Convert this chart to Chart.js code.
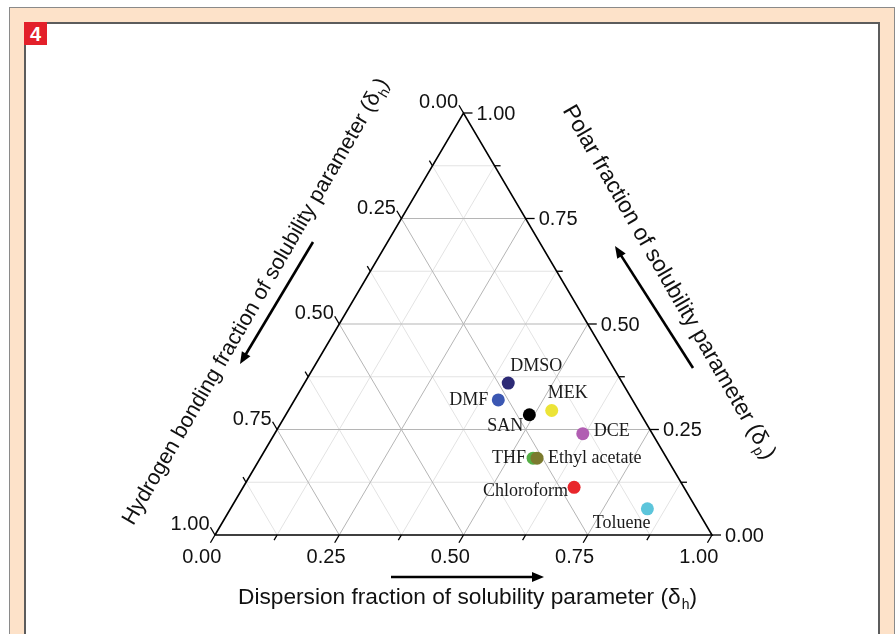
<!DOCTYPE html>
<html><head><meta charset="utf-8">
<script src="https://cdn.jsdelivr.net/npm/chart.js@4.4.1/dist/chart.umd.min.js"></script>
<style>
html,body{margin:0;padding:0;background:#fff;width:896px;height:634px;overflow:hidden;}
#outer{position:absolute;left:9px;top:7px;width:886px;height:700px;background:#fde2c9;border:1px solid #8a8a8a;box-sizing:border-box;}
#inner{position:absolute;left:24px;top:22px;width:856px;height:700px;background:#fff;border:2px solid #5c5c5c;box-sizing:border-box;}
#badge{position:absolute;left:24px;top:22px;width:23px;height:23px;background:#e3202a;color:#fff;font:bold 20px "Liberation Sans",Arial,sans-serif;text-align:center;line-height:24px;}
#c{position:absolute;left:0;top:0;}
</style></head>
<body>
<div id="outer"></div>
<div id="inner"></div>
<div id="badge">4</div>
<canvas id="c" width="896" height="634"></canvas>
<script>
// ---- data ----
const solvents   = ['DMSO','DMF','SAN','MEK','DCE','THF','Ethyl acetate','Chloroform','Toluene'];
const dispersion = [0.410, 0.410, 0.490, 0.530, 0.620, 0.549, 0.557, 0.666, 0.839];
const polar      = [0.360, 0.320, 0.285, 0.295, 0.240, 0.182, 0.182, 0.113, 0.062];
const hydrogen   = [0.230, 0.270, 0.225, 0.175, 0.140, 0.269, 0.261, 0.221, 0.099];
const pointColors = ['#2c2a75','#3b57b2','#000000','#ece437','#b15eb2','#55ae45','#7b7a2e','#e8262b','#5cc5db'];
const majorTicks = [0, 0.25, 0.5, 0.75, 1];
const minorTicks = [0.125, 0.375, 0.625, 0.875];
const tickLabels = ['0.00','0.25','0.50','0.75','1.00'];
const titleBottom = ['Dispersion fraction of solubility parameter (δ','h',')'];
const titleLeft   = ['Hydrogen bonding fraction of solubility parameter (δ','h',')'];
const titleRight  = ['Polar fraction of solubility parameter (δ','p',')'];

// ---- layout (pixel offsets for annotation text) ----
const labelLayout = [
  {dx:2, dy:-17, align:'left'},
  {dx:-10, dy:0, align:'right'},
  {dx:-6, dy:12, align:'right'},
  {dx:-4, dy:-17, align:'left'},
  {dx:11, dy:-2, align:'left'},
  {dx:-7, dy:0, align:'right'},
  {dx:11, dy:0, align:'left'},
  {dx:-6, dy:4, align:'right'},
  {dx:3, dy:14, align:'right'}
];
const TICK_FONT = '20px "Liberation Sans", Arial, sans-serif';
const TITLE_FONT = '22.7px "Liberation Sans", Arial, sans-serif';
const TITLE_FONT_LEFT = '21.6px "Liberation Sans", Arial, sans-serif';
const SUB_FONT = '14px "Liberation Sans", Arial, sans-serif';
const LABEL_FONT = '18px "Liberation Serif", "Times New Roman", serif';

// ternary -> cartesian (x along base, y = polar height fraction)
function toXY(d, p, h) {
  const s = (h === undefined) ? 1 : (d + p + h);
  d /= s; p /= s;
  return {x: d + p / 2, y: p};
}

function gridSegments(levels) {
  const segs = [];
  levels.forEach(v => {
    if (v <= 0 || v >= 1) return;
    segs.push([toXY(0, v), toXY(1 - v, v)]);      // constant polar
    segs.push([toXY(v, 0), toXY(v, 1 - v)]);      // constant dispersion
    segs.push([toXY(1 - v, 0), toXY(0, 1 - v)]);  // constant hydrogen
  });
  return segs;
}

const datasets = [];
gridSegments(minorTicks).forEach(seg => datasets.push({
  type:'line', data: seg, showLine:true, borderColor:'#e3e3e3', borderWidth:1,
  pointRadius:0, clip:false, order:5
}));
gridSegments(majorTicks).forEach(seg => datasets.push({
  type:'line', data: seg, showLine:true, borderColor:'#b5b5b5', borderWidth:1,
  pointRadius:0, clip:false, order:4
}));
datasets.push({
  type:'line', data:[toXY(0,0), toXY(1,0), toXY(0,1), toXY(0,0)], showLine:true,
  borderColor:'#000', borderWidth:1.6, pointRadius:0, clip:false, order:3
});
datasets.push({
  type:'scatter',
  data: solvents.map((s, i) => toXY(dispersion[i], polar[i], hydrogen[i])),
  backgroundColor: pointColors, borderColor: pointColors, borderWidth:0,
  pointRadius:6.5, clip:false, order:1
});

function arrow(ctx, x1, y1, x2, y2) {
  const a = Math.atan2(y2 - y1, x2 - x1), L = 12, W = 5;
  ctx.save();
  ctx.strokeStyle = '#000'; ctx.fillStyle = '#000'; ctx.lineWidth = 2.6;
  ctx.beginPath(); ctx.moveTo(x1, y1);
  ctx.lineTo(x2 - L * 0.8 * Math.cos(a), y2 - L * 0.8 * Math.sin(a)); ctx.stroke();
  ctx.beginPath(); ctx.moveTo(x2, y2);
  ctx.lineTo(x2 - L * Math.cos(a) + W * Math.sin(a), y2 - L * Math.sin(a) - W * Math.cos(a));
  ctx.lineTo(x2 - L * Math.cos(a) - W * Math.sin(a), y2 - L * Math.sin(a) + W * Math.cos(a));
  ctx.closePath(); ctx.fill();
  ctx.restore();
}

function title(ctx, cx, cy, ang, parts, font) {
  ctx.save();
  ctx.translate(cx, cy); ctx.rotate(ang);
  ctx.fillStyle = '#111'; ctx.textAlign = 'left'; ctx.textBaseline = 'alphabetic';
  ctx.font = font; const w1 = ctx.measureText(parts[0]).width;
  ctx.font = SUB_FONT; const w2 = ctx.measureText(parts[1]).width;
  ctx.font = font; const w3 = ctx.measureText(parts[2]).width;
  const x0 = -(w1 + w2 + w3) / 2;
  ctx.font = font; ctx.fillText(parts[0], x0, 8);
  ctx.font = SUB_FONT; ctx.fillText(parts[1], x0 + w1 + 1, 13);
  ctx.font = font; ctx.fillText(parts[2], x0 + w1 + w2 + 1, 8);
  ctx.restore();
}

const ternaryAxes = {
  id:'ternaryAxes',
  afterDraw(chart) {
    const {ctx, scales:{x, y}} = chart;
    const P = (d, p) => { const c = toXY(d, p); return [x.getPixelForValue(c.x), y.getPixelForValue(c.y)]; };
    const L = P(0, 0), R = P(1, 0), T = P(0, 1);
    const unit = (a, b) => { const dx = b[0] - a[0], dy = b[1] - a[1], n = Math.hypot(dx, dy); return [dx / n, dy / n]; };
    const dirBottom = unit(T, L);  // down-left
    const dirLeft = unit(R, T);    // up-left
    const dirRight = unit(L, R);   // right
    ctx.save();
    ctx.strokeStyle = '#000'; ctx.lineWidth = 1.3;
    const tick = (pt, dir, len) => { ctx.beginPath(); ctx.moveTo(pt[0], pt[1]); ctx.lineTo(pt[0] + dir[0] * len, pt[1] + dir[1] * len); ctx.stroke(); };
    majorTicks.forEach(v => { tick(P(v, 0), dirBottom, 9); tick(P(0, 1 - v), dirLeft, 9); tick(P(1 - v, v), dirRight, 9); });
    minorTicks.forEach(v => { tick(P(v, 0), dirBottom, 6); tick(P(0, 1 - v), dirLeft, 6); tick(P(1 - v, v), dirRight, 6); });

    ctx.fillStyle = '#111'; ctx.font = TICK_FONT;
    majorTicks.forEach((v, i) => {
      let p = P(v, 0);
      ctx.textAlign = 'center'; ctx.textBaseline = 'middle';
      ctx.fillText(tickLabels[i], p[0] + dirBottom[0] * 26, p[1] + dirBottom[1] * 26);
      p = P(0, 1 - v);
      ctx.textAlign = 'right';
      ctx.fillText(tickLabels[i], p[0] - 5.5, p[1] - 10.5);
      p = P(1 - v, v);
      ctx.textAlign = 'left';
      ctx.fillText(tickLabels[i], p[0] + 13, p[1] + 1);
    });

    // point labels
    const meta = chart.getDatasetMeta(chart.data.datasets.length - 1);
    ctx.font = LABEL_FONT; ctx.fillStyle = '#1a1a1a'; ctx.textBaseline = 'middle';
    meta.data.forEach((el, i) => {
      const lay = labelLayout[i];
      ctx.textAlign = lay.align;
      ctx.fillText(solvents[i], el.x + lay.dx, el.y + lay.dy);
    });

    // titles and arrows
    title(ctx, 467, 596, 0, titleBottom, TITLE_FONT);
    arrow(ctx, 391, 577, 544, 577);
    title(ctx, 254, 301, -Math.PI / 3, titleLeft, TITLE_FONT_LEFT);
    arrow(ctx, 313, 242, 240, 364);
    title(ctx, 670, 281, Math.PI / 3, titleRight, TITLE_FONT);
    arrow(ctx, 693, 368, 615, 246);
    ctx.restore();
  }
};

new Chart(document.getElementById('c'), {
  type:'scatter',
  data:{datasets},
  options:{
    responsive:false, animation:false, devicePixelRatio:1,
    layout:{padding:{left:215, right:184, top:113, bottom:99}},
    plugins:{legend:{display:false}, tooltip:{enabled:false}},
    scales:{
      x:{type:'linear', min:0, max:1, display:false},
      y:{type:'linear', min:0, max:1, display:false}
    }
  },
  plugins:[ternaryAxes]
});
</script>
</body></html>
